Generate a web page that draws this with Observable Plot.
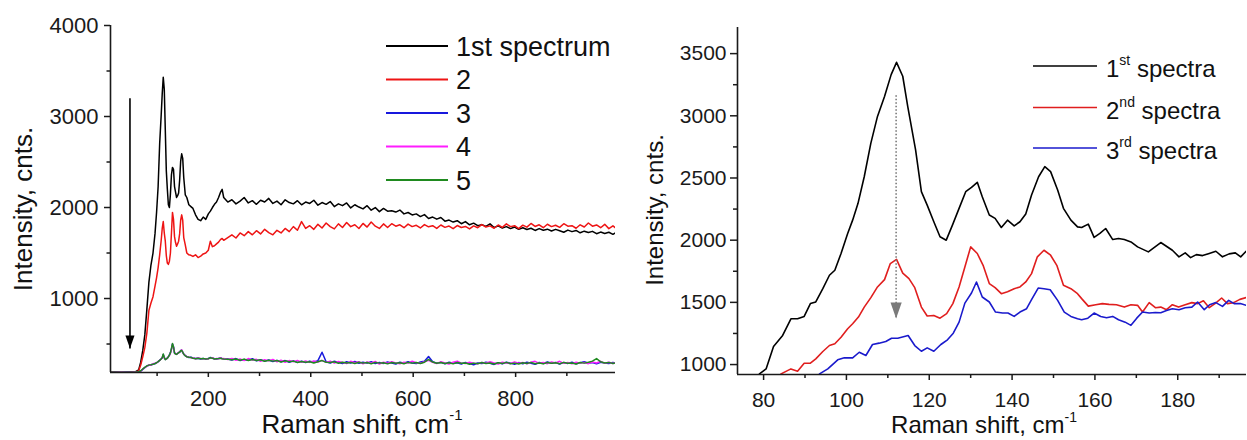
<!DOCTYPE html>
<html><head><meta charset="utf-8">
<script src="https://cdn.jsdelivr.net/npm/d3@7"></script>
<script src="https://cdn.jsdelivr.net/npm/@observablehq/plot@0.6"></script>
<style>
html,body{margin:0;padding:0;background:#fff;}
#wrap{position:relative;width:1247px;height:440px;font-family:"Liberation Sans",Arial,sans-serif;color:#111;}
#wrap svg{position:absolute;top:0;overflow:visible;}
</style></head><body><div id="wrap"></div>
<script>
// ---------- LEFT PANEL DATA (Raman shift, cm-1 / intensity, cnts.) ----------
const leftX = [
 10,20,30,40,50, 58,64,68,72,76, 80,84,88,92,96, 99,102,105,108,110,
 112,114,116,118,120, 122,124,126,128,130, 132,134,136,138,140, 142,144,146,148,150,
 152,155,158,162,166, 170,175,180,185,190, 195,200,204,208,212, 216,220,224,227,230,
 238,246,254,262,270,278,286,294,302,310, 318,326,334,342,350,358,366,374,382,390,
 398,406,414,422,430,438,446,454,462,470, 478,486,494,502,510,518,526,534,542,550,
 558,566,574,582,590,598,606,614,622,630, 638,646,654,662,670,678,686,694,702,710,
 718,726,734,742,750,758,766,774,782,790, 798,806,814,822,830,838,846,854,862,870,
 878,886,894,902,910,918,926,934,942,950, 958,966,974,982,990,995];
const spec1 = [
 190,193,188,191,194, 196,215,300,430,600, 880,1180,1368,1500,1718, 1950,2230,2700,3020,3250,
 3430,3300,2850,2400,2200, 2030,2000,2150,2360,2440, 2420,2230,2170,2110,2130, 2160,2300,2510,2590,2540,
 2330,2140,2110,2030,2010, 1990,1920,1870,1855,1895, 1870,1930,1960,2000,2035, 2060,2110,2170,2200,2110,
 2060,2085,2040,2070,2110,2050,2075,2035,2080,2060, 2100,2045,2070,2030,2085,2055,2040,2075,2030,2060,
 2045,2080,2025,2055,2035,2065,2010,2040,2020,2050, 1995,2030,2005,1985,2020,1970,2000,1955,1990,1960,
 1965,1950,1972,1930,1945,1918,1930,1900,1922,1880, 1895,1872,1890,1850,1862,1840,1855,1822,1845,1810,
 1828,1800,1812,1792,1820,1780,1798,1775,1790,1768, 1785,1760,1778,1758,1772,1748,1768,1750,1762,1742,
 1760,1745,1728,1752,1735,1748,1722,1740,1726,1738, 1712,1730,1715,1728,1705,1722];
const spec2 = [
 189,191,190,188,192, 193,205,270,360,460, 620,870,950,1020,1140, 1230,1340,1480,1640,1770,
 1845,1720,1630,1470,1390, 1375,1410,1500,1720,1946, 1870,1680,1615,1575,1600, 1630,1710,1860,1919,1860,
 1670,1590,1500,1480,1475, 1462,1480,1450,1465,1490, 1500,1530,1630,1570,1580, 1600,1620,1650,1660,1640,
 1670,1700,1665,1720,1690,1735,1700,1745,1710,1760, 1725,1700,1750,1720,1770,1735,1790,1750,1845,1770,
 1800,1760,1815,1775,1830,1790,1765,1820,1780,1835, 1790,1810,1770,1825,1785,1840,1795,1770,1820,1780,
 1822,1795,1810,1778,1818,1790,1805,1775,1812,1788, 1800,1770,1808,1782,1796,1768,1802,1780,1792,1765,
 1798,1778,1812,1786,1798,1772,1808,1782,1820,1790, 1800,1768,1806,1784,1825,1792,1810,1778,1816,1790,
 1805,1782,1822,1795,1800,1772,1810,1786,1830,1795, 1808,1778,1815,1768,1798,1775];
const spec3 = [
 188,191,189,192,190, 191,194,202,222,240, 258,266,270,280,284, 296,304,322,338,348,
 385,350,330,338,345, 362,380,405,445,500, 470,402,392,388,398, 404,412,428,432,408,
 390,372,362,352,356, 346,340,344,336,342, 334,340,352,346,338, 336,341,346,340,337,
 335,325,340,318,330,322,338,315,328,312, 325,308,320,305,318,300,315,298,310,296,
 312,300,318,410,305,292,310,298,285,305, 292,308,288,300,290,306,285,298,287,303,
 290,280,300,288,305,292,285,302,310,362, 305,290,298,282,300,288,295,280,298,286,
 272,292,285,300,288,276,295,283,300,290, 278,296,284,300,289,278,297,286,302,288,
 296,280,298,287,300,284,294,305,288,296, 282,300,292,286,298,290];
const spec4 = [
 187,190,192,189,191, 193,195,204,225,243, 255,270,268,283,288, 292,308,318,335,352,
 380,345,335,332,348, 358,376,398,440,492, 462,408,388,392,394, 410,408,422,436,412,
 386,376,358,356,350, 350,336,348,340,338, 338,336,348,350,334, 340,338,350,336,340,
 330,342,322,335,318,340,325,332,310,328, 315,330,305,322,300,318,305,320,300,314,
 298,315,302,320,298,312,290,308,298,285, 310,295,305,282,302,292,308,280,300,288,
 305,293,282,300,290,310,295,288,305,320, 298,285,305,292,280,300,312,290,285,300,
 290,282,298,288,305,292,280,300,292,286, 304,290,298,282,300,310,288,296,284,302,
 292,310,288,296,282,300,290,296,284,302, 292,310,288,300,286,296];
const spec5 = [
 189,190,191,190,189, 192,196,206,226,244, 260,268,272,278,286, 294,306,320,336,350,
 390,352,328,336,344, 360,378,402,450,505, 468,400,390,386,396, 406,410,426,430,410,
 388,370,360,354,352, 344,338,344,338,340, 336,338,350,344,336, 338,340,344,338,335,
 332,328,336,322,334,318,330,320,326,310, 322,312,318,302,315,305,312,296,308,300,
 306,292,305,318,300,296,304,288,300,292, 298,286,300,290,296,284,298,290,295,282,
 297,288,294,284,298,290,296,286,300,330, 302,288,296,285,294,282,296,288,292,278,
 290,284,296,286,292,280,294,286,298,284, 290,280,294,286,298,284,292,282,296,288,
 294,284,298,288,292,280,296,290,300,312, 340,305,292,298,286,294];
const leftNames = ["1st spectrum","2","3","4","5"];
const leftArrow = [{x: 47, from: 3200, to: 450}];
const leftXTicks = [200,400,600,800], leftXMinor = [100,300,500,700,900];
const leftYTicks = [1000,2000,3000,4000], leftYMinor = [500,1500,2500,3500];

// ---------- RIGHT PANEL DATA ----------
const r1 = [[79.0,925],[80.6,965],[82.4,1145],[84.6,1234],[86.6,1368],[88.2,1368],[89.8,1387],[91.3,1490],[92.6,1503],[94.3,1610],[95.9,1718],[97.2,1758],[98.7,1893],[100.3,2054],[101.5,2161],[102.8,2296],[104.3,2510],[105.9,2780],[107.5,2995],[109.2,3156],[110.8,3331],[112.1,3430],[113.6,3318],[114.8,3075],[116.7,2726],[118.1,2390],[119.5,2282],[121.1,2148],[122.6,2027],[124.1,2000],[125.6,2121],[127.2,2256],[128.8,2390],[130.2,2425],[131.6,2465],[132.8,2349],[134.5,2202],[135.9,2175],[137.4,2102],[138.9,2161],[140.5,2115],[141.9,2148],[143.3,2210],[144.7,2363],[146.4,2510],[147.9,2591],[149.3,2551],[151.0,2403],[152.4,2256],[154.2,2161],[155.8,2107],[156.8,2102],[158.4,2129],[159.8,2022],[161.2,2054],[162.6,2094],[164.3,2005],[165.7,2013],[167.1,2005],[168.7,1986],[170.3,1946],[172.9,1906],[175.9,1981],[178.7,1919],[180.3,1866],[181.8,1898],[183.1,1860],[184.5,1884],[186.0,1876],[187.6,1893],[189.2,1911],[190.8,1866],[192.4,1890],[193.9,1898],[195.2,1866],[196.5,1911]];
const r2 = [[84.2,925],[86.6,965],[88.2,946],[89.8,1011],[91.3,1011],[92.6,1046],[94.3,1105],[95.9,1153],[97.2,1167],[98.7,1220],[100.3,1288],[101.5,1328],[102.9,1382],[104.3,1462],[105.9,1538],[107.5,1624],[109.2,1683],[110.6,1812],[112.1,1845],[113.6,1735],[115.1,1691],[116.5,1618],[118.1,1462],[119.5,1390],[121.1,1395],[122.6,1373],[124.2,1409],[125.7,1490],[127.2,1624],[128.6,1785],[130.0,1946],[131.6,1893],[133.0,1798],[134.5,1651],[135.9,1618],[137.4,1570],[138.9,1586],[140.5,1610],[141.9,1624],[143.3,1664],[144.7,1731],[146.1,1866],[147.7,1919],[149.3,1879],[150.8,1798],[152.4,1637],[154.2,1610],[155.8,1570],[156.8,1530],[158.4,1470],[160.2,1481],[161.8,1490],[163.4,1484],[165.2,1481],[167.1,1462],[168.7,1481],[170.3,1476],[171.5,1422],[173.1,1498],[174.6,1457],[175.9,1462],[177.3,1441],[178.7,1481],[180.2,1462],[181.8,1481],[183.4,1498],[184.8,1490],[186.2,1513],[187.6,1457],[189.0,1490],[190.6,1535],[192.0,1490],[193.5,1498],[195.0,1524],[196.5,1538]];
const r3 = [[93.5,925],[95.5,965],[97.9,1038],[99.5,1054],[101.5,1054],[103.1,1099],[104.7,1073],[106.3,1161],[107.9,1172],[109.5,1185],[110.9,1212],[112.4,1212],[114.9,1234],[116.5,1153],[118.1,1107],[119.5,1134],[121.1,1107],[122.8,1161],[124.4,1199],[125.8,1252],[127.2,1341],[128.6,1494],[130.2,1575],[131.4,1664],[132.8,1543],[134.5,1503],[136.0,1422],[137.7,1414],[139.0,1414],[140.5,1387],[141.9,1422],[143.5,1449],[144.7,1522],[146.3,1615],[147.7,1610],[149.2,1602],[151.0,1516],[152.6,1422],[154.2,1387],[155.8,1369],[156.8,1360],[158.3,1373],[159.8,1414],[161.4,1387],[162.8,1376],[164.3,1387],[165.7,1360],[167.3,1341],[168.7,1315],[170.1,1373],[171.5,1422],[173.1,1414],[174.6,1419],[175.9,1417],[177.3,1435],[178.7,1449],[180.3,1441],[181.8,1457],[183.4,1462],[184.8,1503],[186.4,1441],[187.7,1481],[189.2,1498],[190.8,1468],[192.3,1516],[193.6,1490],[195.1,1490],[196.5,1476]];
const rightNames = [["1","st"],["2","nd"],["3","rd"]];
const rightArrow = [{x: 112, from: 3165, to: 1371}];
const rightXTicks = [80,100,120,140,160,180], rightXMinor = [90,110,130,150,170,190];
const rightYTicks = [1000,1500,2000,2500,3000,3500], rightYMinor = [1250,1750,2250,2750,3250];

// ---------- DRAWING ----------
const FONT = '"Liberation Sans", Arial, sans-serif';
const AX = "#1a1a1a";
const leftColors = ["#000000","#ee1414","#1818dd","#ff1cff","#1f8a1f"];
const rightColors = ["#000000","#e01e1e","#1a1acc"];
const tip = {draw(ctx, size){const r=Math.sqrt(size/Math.PI); ctx.moveTo(0,0); ctx.lineTo(-0.7*r,-2*r); ctx.lineTo(0.7*r,-2*r); ctx.closePath();}};
const wrap = document.getElementById("wrap");

const leftSeries = [spec1,spec2,spec3,spec4,spec5].map(ys => leftX.map((x,i)=>({x, y: ys[i]})));
const leftDomX = [9,995], leftDomY = [187,4000];
const left = Plot.plot({
  width: 625, height: 440, marginLeft: 110, marginRight: 10, marginTop: 25, marginBottom: 68,
  x: {domain: leftDomX}, y: {domain: leftDomY},
  style: {fontFamily: FONT, fontSize: "22px", color: AX, background: "transparent", overflow: "visible"},
  marks: [
    Plot.axisX({ticks: leftXTicks, tickSize: 5, tickPadding: 13, tickFormat: "d", label: null, strokeWidth: 1.5}),
    Plot.axisX({ticks: leftXMinor, tickSize: 4, text: null, label: null, strokeWidth: 1.5}),
    Plot.axisY({ticks: leftYTicks, tickSize: 6, tickPadding: 6, tickFormat: "d", label: null, strokeWidth: 1.5}),
    Plot.axisY({ticks: leftYMinor, tickSize: 3.5, text: null, label: null, strokeWidth: 1.5}),
    ...leftSeries.map((s,k)=>Plot.line(s, {x:"x", y:"y", stroke: leftColors[k], strokeWidth: 1.5, clip: true})),
    Plot.link(leftArrow, {x1:"x", x2:"x", y1:"from", y2:"to", stroke:"#000", strokeWidth: 1.6}),
    Plot.dot(leftArrow, {x:"x", y:"to", symbol: tip, r: 6.5, fill:"#000", stroke: null}),
    Plot.ruleX([leftDomX[0]], {stroke: AX, strokeWidth: 1.6}),
    Plot.ruleY([leftDomY[0]], {stroke: AX, strokeWidth: 1.6})
  ]
});
left.style.left = "0px";
wrap.appendChild(left);

const rightSeries = [r1,r2,r3];
const rightDomX = [73.7,196.6], rightDomY = [920,3710];
const right = Plot.plot({
  width: 622, height: 440, marginLeft: 112, marginRight: 1, marginTop: 27, marginBottom: 66,
  x: {domain: rightDomX}, y: {domain: rightDomY},
  style: {fontFamily: FONT, fontSize: "21px", color: AX, background: "transparent", overflow: "visible"},
  marks: [
    Plot.axisX({ticks: rightXTicks, tickSize: 6, tickPadding: 12, tickFormat: "d", label: null, strokeWidth: 1.5}),
    Plot.axisX({ticks: rightXMinor, tickSize: 4, text: null, label: null, strokeWidth: 1.5}),
    Plot.axisY({ticks: rightYTicks, tickSize: 7, tickPadding: 4, tickFormat: "d", label: null, strokeWidth: 1.5}),
    Plot.axisY({ticks: rightYMinor, tickSize: 4, text: null, label: null, strokeWidth: 1.5}),
    ...rightSeries.map((s,k)=>Plot.line(s, {x: d=>d[0], y: d=>d[1], stroke: rightColors[k], strokeWidth: 1.6, clip: true})),
    Plot.link(rightArrow, {x1:"x", x2:"x", y1:"from", y2:"to", stroke:"#7a7a7a", strokeWidth: 1.6, strokeDasharray: "1.5,2"}),
    Plot.dot(rightArrow, {x:"x", y:"to", symbol: tip, r: 8, fill:"#7a7a7a", stroke: null}),
    Plot.ruleX([rightDomX[0]], {stroke: AX, strokeWidth: 1.6}),
    Plot.ruleY([rightDomY[0]], {stroke: AX, strokeWidth: 1.6})
  ]
});
right.style.left = "625px";
wrap.appendChild(right);

// ---------- TITLES & LEGENDS (overlay) ----------
const ov = d3.select(wrap).append("svg").attr("width",1247).attr("height",440)
  .style("left","0px").style("font-family",FONT).style("pointer-events","none");
function xTitle(cx, size, supSize, rise) {
  const t = ov.append("text").attr("x",cx).attr("y",433).attr("text-anchor","middle")
    .attr("font-size",size).attr("fill","#111");
  t.append("tspan").text("Raman shift, cm");
  t.append("tspan").attr("dy",-rise).attr("font-size",supSize).text("-1");
}
xTitle(362, 26, 15, 13);
xTitle(984, 24, 14, 11);
function yTitle(x, cy, size) {
  ov.append("text").attr("transform",`translate(${x},${cy}) rotate(-90)`).attr("text-anchor","middle")
    .attr("font-size",size).attr("fill","#111").text("Intensity, cnts.");
}
yTitle(32, 209, 26);
yTitle(663, 210, 24);

const leftRows = [46, 79.5, 113, 146.5, 180];
leftNames.forEach((n,k)=>{
  ov.append("line").attr("x1",386).attr("x2",448).attr("y1",leftRows[k]).attr("y2",leftRows[k])
    .attr("stroke",leftColors[k]).attr("stroke-width",2);
  ov.append("text").attr("x",456).attr("y",leftRows[k]+9.5).attr("font-size",27).attr("fill","#111").text(n);
});
const rightRows = [66, 107.5, 148];
rightNames.forEach((n,k)=>{
  ov.append("line").attr("x1",1033).attr("x2",1097).attr("y1",rightRows[k]).attr("y2",rightRows[k])
    .attr("stroke",rightColors[k]).attr("stroke-width",1.6);
  const t = ov.append("text").attr("x",1106).attr("y",rightRows[k]+11).attr("font-size",24).attr("fill","#111");
  t.append("tspan").text(n[0]);
  t.append("tspan").attr("dy",-12).attr("font-size",14).text(n[1]);
  t.append("tspan").attr("dy",12).text(" spectra");
});
</script></body></html>
